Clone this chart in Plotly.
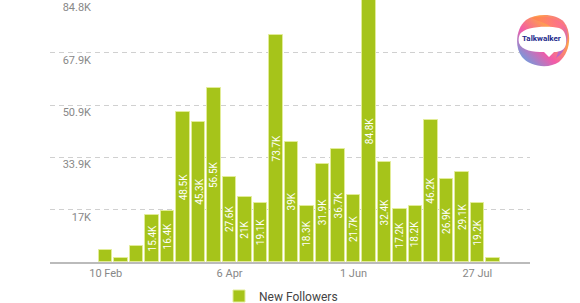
import pandas as pd
import plotly.graph_objects as go
from urllib.parse import quote

# ---- data ----
weeks = [d.strftime("%Y-%m-%d") for d in pd.date_range("2020-02-10", periods=26, freq="7D")]
new_followers = [3900, 1400, 5200, 15400, 16400, 48500, 45300, 56500, 27600, 21000,
                 19100, 73700, 39000, 18300, 31900, 36700, 21700, 84800, 32400, 17200,
                 18200, 46200, 26900, 29100, 19200, 1200]
y_tick_vals = [16960, 33920, 50880, 67840, 84800]
y_tick_text = ["17K", "33.9K", "50.9K", "67.9K", "84.8K"]
x_tick_vals = ["2020-02-10", "2020-04-06", "2020-06-01", "2020-07-27"]
x_tick_text = ["10 Feb", "6 Apr", "1 Jun", "27 Jul"]
series_name = "New Followers"


def fmt(v):
    s = f"{v/1000:.1f}".rstrip("0").rstrip(".")
    return s + "K"


labels = [fmt(v) for v in new_followers]

BAR = "#a6c41a"
WEEK_MS = 7 * 24 * 3600 * 1000

fig = go.Figure()
fig.add_trace(go.Bar(
    x=weeks, y=new_followers, name=series_name,
    marker=dict(color=BAR, line=dict(color="#e2ec98", width=1)),
    width=0.87 * WEEK_MS,
    hoverinfo="x+y",
))

# value labels centred inside the bars
ann = []
for d, v, t in zip(weeks, new_followers, labels):
    if v < 10000:
        continue
    ann.append(dict(x=d, y=v / 2, xref="x", yref="y", text=t, textangle=-90,
                    showarrow=False, font=dict(family="Roboto", size=10, color="white")))

# logo text
ann.append(dict(x=(541 - 50) / 480, y=(262 - 39) / 262, xref="paper", yref="paper",
                xanchor="center", yanchor="middle",
                text="<b>Talkwalker</b>", showarrow=False,
                font=dict(family="Roboto", size=8, color="#1d2a8c")))

svg = """<svg xmlns='http://www.w3.org/2000/svg' viewBox='0 0 60 56' width='60' height='56' preserveAspectRatio='none'>
<defs>
<linearGradient id='g1' x1='0' y1='1' x2='1' y2='0'>
<stop offset='0' stop-color='#3fb6f2'/>
<stop offset='0.4' stop-color='#f25aa8'/>
<stop offset='0.7' stop-color='#ffa24a'/>
<stop offset='1' stop-color='#f25aa8'/>
</linearGradient>
<linearGradient id='g2' x1='0' y1='0' x2='1' y2='1'>
<stop offset='0' stop-color='#ff8a3d' stop-opacity='0.85'/>
<stop offset='0.5' stop-color='#ff5fa8' stop-opacity='0.5'/>
<stop offset='1' stop-color='#7a5cff' stop-opacity='0.8'/>
</linearGradient>
</defs>
<path d='M14 8 C 24 1, 44 1, 52 10 C 60 20, 59 40, 47 50 C 37 57, 18 55, 10 45 C 2 35, 4 16, 14 8 Z' fill='url(#g1)'/>
<path d='M20 6 C 32 2, 48 6, 54 16 C 58 26, 54 40, 44 46 C 50 34, 46 18, 34 12 C 28 9, 22 8, 20 6 Z' fill='url(#g2)'/>
<path d='M8 22 C 12 15, 34 13, 47 16 C 53 18, 55 25, 54 32 C 53 38, 48 40, 42 40 L 37 45 L 32 40 C 21 40, 10 39, 7 31 C 6 27, 7 24, 8 22 Z' fill='white'/>
</svg>"""
logo_src = "data:image/svg+xml;charset=utf-8," + quote(svg)

x0 = pd.Timestamp("2020-02-10") - pd.Timedelta(days=7 * 3.6)
x1 = pd.Timestamp("2020-02-10") + pd.Timedelta(days=7 * 27.4)

fig.update_layout(
    width=580, height=303,
    margin=dict(l=50, r=50, t=0, b=41, autoexpand=False),
    paper_bgcolor="white", plot_bgcolor="white",
    font=dict(family="Roboto", color="#888888", size=11),
    bargap=0,
    annotations=ann,
    images=[dict(source=logo_src, xref="paper", yref="paper",
                 x=(512 - 50) / 480, y=(262 - 12) / 262,
                 sizex=60 / 480, sizey=56 / 262, xanchor="left", yanchor="top",
                 sizing="stretch", layer="above")],
    showlegend=True,
    legend=dict(orientation="h", x=(281 - 50) / 480, xanchor="center",
                yref="container", y=(303 - 296) / 303, yanchor="middle",
                font=dict(family="Roboto", size=12, color="#444444"), bgcolor="rgba(0,0,0,0)"),
    xaxis=dict(type="date", range=[x0, x1], tickvals=x_tick_vals, ticktext=x_tick_text,
               showgrid=False, zeroline=False, showline=True, linecolor="#bbbbbb", linewidth=1.5,
               ticks="", tickfont=dict(size=11, color="#888888")),
    yaxis=dict(range=[0, 84950], tickvals=y_tick_vals, ticktext=y_tick_text,
               anchor="free", position=(91 - 50) / 480,
               showgrid=True, gridcolor="#d0d0d0", gridwidth=1, griddash="5px,4px",
               zeroline=False, showline=False, ticks="",
               ticklabelshift=7, tickfont=dict(size=11, color="#888888")),
)

fig.write_html("out.html")
